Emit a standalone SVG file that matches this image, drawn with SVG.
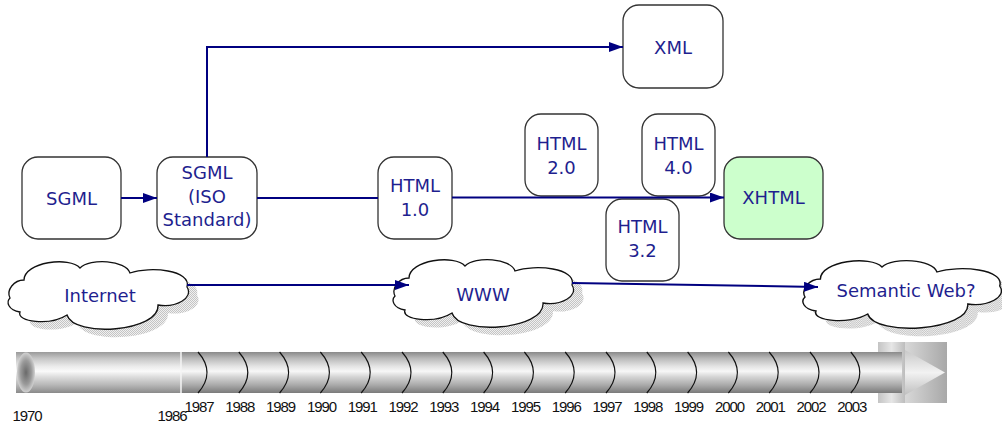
<svg xmlns="http://www.w3.org/2000/svg" width="1002" height="425" viewBox="0 0 1002 425">
<style>
.box{fill:#fff;stroke:#333;stroke-width:1.3}
.t{font-family:"DejaVu Sans",Verdana,sans-serif;font-size:18px;fill:#1f1f8f;text-anchor:middle}
.yr{font-family:"Liberation Sans",Arial,sans-serif;font-size:15px;fill:#111;text-anchor:middle;letter-spacing:-1.1px}
.edge{fill:none;stroke:#000080;stroke-width:2}
.cl{fill:#fff;stroke:#111;stroke-width:1.3}
.sh{fill:url(#dots)}
.arc{fill:none;stroke:#111;stroke-width:1.2}
</style>
<defs>
<marker id="ah" viewBox="0 0 14 10" refX="14" refY="5" markerWidth="14" markerHeight="10" markerUnits="userSpaceOnUse" orient="auto"><path d="M0 0 L14 5 L0 10 Z" fill="#000080"/></marker>
<pattern id="dots" width="2" height="2" patternUnits="userSpaceOnUse"><rect width="2" height="2" fill="#f0f0f0"/><rect width="1" height="1" fill="#c4c4c4"/><rect x="1" y="1" width="1" height="1" fill="#c4c4c4"/></pattern>
<path id="cloud" d="M0 38 C-4 30 4 20 14 20 C14 2 60 -4 70 8 C80 -2 116 0 120 13 C140 6 182 10 177 27 C184 38 166 48 148 45 C150 72 64 78 57 55 C40 66 6 62 10 52 C-2 50 -4 42 0 38 Z"/>
<linearGradient id="barg" x1="0" y1="0" x2="0" y2="1">
<stop offset="0" stop-color="#8a8a8a"/><stop offset="0.15" stop-color="#b8b8b8"/><stop offset="0.35" stop-color="#e4e4e4"/><stop offset="0.47" stop-color="#f7f7f7"/><stop offset="0.6" stop-color="#d6d6d6"/><stop offset="0.8" stop-color="#ababab"/><stop offset="1" stop-color="#7a7a7a"/>
</linearGradient>
<linearGradient id="barl" x1="0" y1="0" x2="0" y2="1">
<stop offset="0" stop-color="#9a9a9a"/><stop offset="0.15" stop-color="#c4c4c4"/><stop offset="0.35" stop-color="#ebebeb"/><stop offset="0.47" stop-color="#fafafa"/><stop offset="0.6" stop-color="#dedede"/><stop offset="0.8" stop-color="#b8b8b8"/><stop offset="1" stop-color="#8a8a8a"/>
</linearGradient>
<radialGradient id="endl" cx="0.5" cy="0.5" r="0.5">
<stop offset="0" stop-color="#6a6a6a"/><stop offset="0.6" stop-color="#9a9a9a"/><stop offset="1" stop-color="#d0d0d0"/>
</radialGradient>
<linearGradient id="ring" x1="0" y1="0" x2="1" y2="0">
<stop offset="0" stop-color="#c4c4c4"/><stop offset="0.5" stop-color="#e6e6e6"/><stop offset="1" stop-color="#bdbdbd"/>
</linearGradient>
<linearGradient id="capg" x1="0" y1="0" x2="1" y2="0">
<stop offset="0" stop-color="#d8d8d8"/><stop offset="1" stop-color="#a8a8a8"/>
</linearGradient>
<linearGradient id="trig" x1="0" y1="0" x2="0" y2="1">
<stop offset="0" stop-color="#c8c8c8"/><stop offset="0.5" stop-color="#f2f2f2"/><stop offset="1" stop-color="#c0c0c0"/>
</linearGradient>
</defs>

<g id="timeline">
<rect x="878" y="342" width="27" height="61" fill="url(#ring)"/>
<rect x="16" y="352" width="886" height="41" fill="url(#barg)"/>
<rect x="16" y="352" width="165" height="41" fill="url(#barl)"/>
<line x1="181" y1="352" x2="181" y2="393" stroke="#f4f4f4" stroke-width="1.5"/>
<ellipse cx="26" cy="372.5" rx="9" ry="20" fill="url(#endl)"/>
<rect x="905" y="342" width="42" height="61" fill="url(#capg)"/>
<path d="M905 350 L945 372.5 L905 395 Z" fill="url(#trig)"/>
<g class="arc">
<path d="M198 352 Q216 372.5 198 393"/>
<path d="M238.8 352 Q256.8 372.5 238.8 393"/>
<path d="M279.6 352 Q297.6 372.5 279.6 393"/>
<path d="M320.4 352 Q338.4 372.5 320.4 393"/>
<path d="M361.2 352 Q379.2 372.5 361.2 393"/>
<path d="M402 352 Q420 372.5 402 393"/>
<path d="M442.8 352 Q460.8 372.5 442.8 393"/>
<path d="M483.6 352 Q501.6 372.5 483.6 393"/>
<path d="M524.4 352 Q542.4 372.5 524.4 393"/>
<path d="M565.2 352 Q583.2 372.5 565.2 393"/>
<path d="M606 352 Q624 372.5 606 393"/>
<path d="M646.8 352 Q664.8 372.5 646.8 393"/>
<path d="M687.6 352 Q705.6 372.5 687.6 393"/>
<path d="M728.4 352 Q746.4 372.5 728.4 393"/>
<path d="M769.2 352 Q787.2 372.5 769.2 393"/>
<path d="M810 352 Q828 372.5 810 393"/>
<path d="M850.8 352 Q868.8 372.5 850.8 393"/>
</g>
<g class="yr">
<text x="27" y="421">1970</text>
<text x="172" y="421">1986</text>
<text x="199" y="412">1987</text>
<text x="239.8" y="412">1988</text>
<text x="280.6" y="412">1989</text>
<text x="321.4" y="412">1990</text>
<text x="362.2" y="412">1991</text>
<text x="403" y="412">1992</text>
<text x="443.8" y="412">1993</text>
<text x="484.6" y="412">1994</text>
<text x="525.4" y="412">1995</text>
<text x="566.2" y="412">1996</text>
<text x="607" y="412">1997</text>
<text x="647.8" y="412">1998</text>
<text x="688.6" y="412">1999</text>
<text x="729.4" y="412">2000</text>
<text x="770.2" y="412">2001</text>
<text x="811" y="412">2002</text>
<text x="851.8" y="412">2003</text>
</g>
</g>

<g id="sgml"><rect class="box" x="22" y="157" width="99" height="82" rx="16"/><text class="t" x="71.5" y="204.5">SGML</text></g>
<g id="sgml-iso"><rect class="box" x="157" y="157" width="100" height="82" rx="16"/><text class="t" x="207" y="179">SGML</text><text class="t" x="207" y="202.5">(ISO</text><text class="t" x="207" y="226">Standard)</text></g>
<g id="html10"><rect class="box" x="378" y="157" width="74" height="82" rx="16"/><text class="t" x="415" y="192">HTML</text><text class="t" x="415" y="216">1.0</text></g>
<g id="html20"><rect class="box" x="525" y="114" width="73" height="82" rx="16"/><text class="t" x="561.5" y="150">HTML</text><text class="t" x="561.5" y="174">2.0</text></g>
<g id="html40"><rect class="box" x="642" y="114" width="73" height="82" rx="16"/><text class="t" x="678.5" y="150">HTML</text><text class="t" x="678.5" y="174">4.0</text></g>
<g id="html32"><rect class="box" x="606" y="199" width="73" height="82" rx="16"/><text class="t" x="642.5" y="233">HTML</text><text class="t" x="642.5" y="257">3.2</text></g>
<g id="xhtml"><rect class="box" x="724" y="157" width="99" height="82" rx="16" style="fill:#ccffcc"/><text class="t" x="773.5" y="204">XHTML</text></g>
<g id="xml"><rect class="box" x="623" y="5" width="100" height="83" rx="16"/><text class="t" x="673" y="53.5">XML</text></g>

<g id="internet"><use href="#cloud" class="sh" transform="translate(20,268)"/><use href="#cloud" class="cl" transform="translate(10,260)"/><text class="t" x="100" y="302">Internet</text></g>
<g id="www"><use href="#cloud" class="sh" transform="translate(405,266)"/><use href="#cloud" class="cl" transform="translate(395,258)"/><text class="t" x="483" y="301">WWW</text></g>
<g id="semantic"><use href="#cloud" class="sh" transform="translate(815,267) scale(1.1,1)"/><use href="#cloud" class="cl" transform="translate(805,259) scale(1.1,1)"/><text class="t" x="906" y="297">Semantic Web?</text></g>

<g id="connectors">
<path class="edge" d="M121 198 H157" marker-end="url(#ah)"/>
<path class="edge" d="M207 157 V47 H623" marker-end="url(#ah)"/>
<path class="edge" d="M257 198 H378"/>
<path class="edge" d="M452 197.5 H724" marker-end="url(#ah)"/>
<path class="edge" d="M187 285 H409" marker-end="url(#ah)"/>
<path class="edge" d="M572 283 L818 287" marker-end="url(#ah)"/>
</g>
</svg>
